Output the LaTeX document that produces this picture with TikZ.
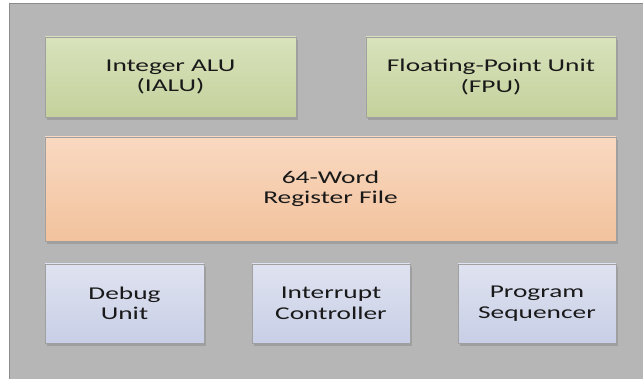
\documentclass[tikz,border=0pt]{standalone}
\usepackage{fontspec}
\setmainfont{Carlito}
\usetikzlibrary{shadows}
\definecolor{bgcore}{RGB}{182,182,182}
\definecolor{edgecore}{RGB}{140,140,140}
\definecolor{edgeunit}{RGB}{160,160,160}
\definecolor{greentop}{RGB}{216,226,188}
\definecolor{greenbot}{RGB}{197,209,156}
\definecolor{orangetop}{RGB}{249,217,193}
\definecolor{orangebot}{RGB}{242,194,157}
\definecolor{bluetop}{RGB}{223,226,240}
\definecolor{bluebot}{RGB}{200,207,230}
\begin{document}
\begin{tikzpicture}[x=1pt,y=1pt,
  unit/.style={draw=edgeunit,line width=0.8pt,align=center,inner sep=0pt,
    xscale=1.52,transform shape,
    font=\fontsize{18}{20.5}\selectfont,text=black!90,
    drop shadow={shadow xshift=2pt,shadow yshift=-3pt,fill=black,opacity=0.12}},
  alu/.style={unit,top color=greentop,bottom color=greenbot},
  regs/.style={unit,top color=orangetop,bottom color=orangebot},
  ctrl/.style={unit,top color=bluetop,bottom color=bluebot}]
\useasboundingbox(0,0)rectangle(643,379);
\fill[white](0,0)rectangle(643,379);
\draw[edgecore,fill=bgcore,line width=0.8pt](9,-2)rectangle(646,376);
%
\node[alu,minimum width=165.1,minimum height=80](ialu)at(170.5,302){Integer ALU\\(IALU)};
\node[alu,minimum width=164.5,minimum height=80](fpu)at(491,302){Floating-Point Unit\\(FPU)};
%
\node[regs,minimum width=375.7,minimum height=104](regfile)at(330.5,190){64-Word\\Register File};
%
\node[ctrl,minimum width=104.6,minimum height=79](debug)at(124.5,75.5){Debug\\Unit};
\node[ctrl,minimum width=103.9,minimum height=79](intctl)at(331,75.5){Interrupt\\Controller};
\node[ctrl,minimum width=103.9,minimum height=79](progseq)at(537,75.5){Program\\Sequencer};
\end{tikzpicture}
\end{document}
